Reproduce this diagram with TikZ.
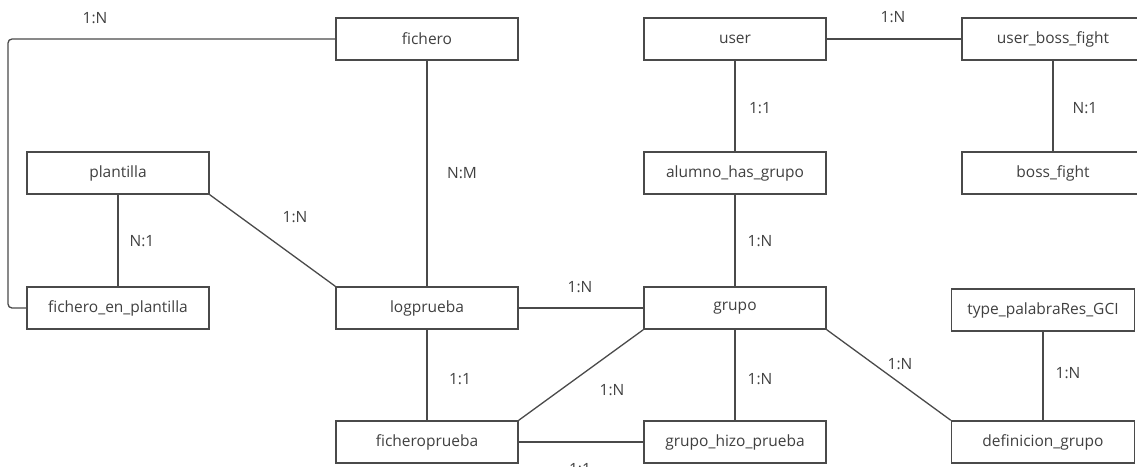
\documentclass[tikz,border=0pt]{standalone}
\usepackage{fontspec}
\setmainfont{Open Sans}
\begin{document}
\begin{tikzpicture}[x=1pt,y=-1pt,
  entity/.style={draw=linegray, line width=1.5pt, fill=white, minimum width=182pt,
    minimum height=42pt, inner sep=0pt, font=\fontsize{15.5}{18}\selectfont, text=textgray},
  rel/.style={draw=linegray, line width=1.3pt},
  card/.style={font=\fontsize{15.5}{18}\selectfont, text=textgray, inner sep=0pt}]
\definecolor{linegray}{HTML}{4A4A4A}
\definecolor{textgray}{HTML}{404040}
\useasboundingbox (0,0) rectangle (1137,466);
\fill[white] (0,0) rectangle (1137,466);

% entities
\node[entity] (fichero)   at (427,39)  {fichero};
\node[entity] (user)      at (735,39)  {user};
\node[entity] (ubf)       at (1053,39) {user\_boss\_fight};
\node[entity] (plantilla) at (118,173) {plantilla};
\node[entity] (ahg)       at (735,173) {alumno\_has\_grupo};
\node[entity] (boss)      at (1053,173) {boss\_fight};
\node[entity] (fep)       at (118,308) {fichero\_en\_plantilla};
\node[entity] (log)       at (427,308) {logprueba};
\node[entity] (grupo)     at (735,308) {grupo};
\node[entity, minimum width=183pt] (type) at (1043,310) {type\_palabraRes\_GCI};
\node[entity] (fprueba)   at (427,442) {ficheroprueba};
\node[entity] (ghp)       at (735,442) {grupo\_hizo\_prueba};
\node[entity, minimum width=183pt] (defg) at (1043,442) {definicion\_grupo};

% relationships
\coordinate (bendtop) at (8,39);
\coordinate (bendbot) at (8,308);
\draw[rel, rounded corners=4pt] (fichero.west) -- (bendtop) -- (bendbot) -- (fep.west);
\draw[rel] (fichero.south) -- (log.north);
\draw[rel] (user.east) -- (ubf.west);
\draw[rel] (user.south) -- (ahg.north);
\draw[rel] (ubf.south) -- (boss.north);
\draw[rel] (plantilla.south) -- (fep.north);
\draw[rel] (plantilla.south east) -- (log.north west);
\draw[rel] (ahg.south) -- (grupo.north);
\draw[rel] (log.east) -- (grupo.west);
\draw[rel] (log.south) -- (fprueba.north);
\draw[rel] (grupo.south west) -- (fprueba.north east);
\draw[rel] (grupo.south) -- (ghp.north);
\draw[rel] (grupo.south east) -- (defg.north west);
\draw[rel] (fprueba.east) -- (ghp.west);
\draw[rel] (type.south) -- (defg.north);

% cardinalities
\node[card] (c1)  at (95,18)   {1:N};
\node[card] (c2)  at (462,173) {N:M};
\node[card] (c3)  at (893,17)  {1:N};
\node[card] (c4)  at (760,108) {1:1};
\node[card] (c5)  at (1085,108) {N:1};
\node[card] (c6)  at (142,241) {N:1};
\node[card] (c7)  at (295,217) {1:N};
\node[card] (c8)  at (760,241) {1:N};
\node[card] (c9)  at (580,287) {1:N};
\node[card] (c10) at (460,379) {1:1};
\node[card] (c11) at (612,390) {1:N};
\node[card] (c12) at (760,379) {1:N};
\node[card] (c13) at (900,364) {1:N};
\node[card] (c14) at (1068,373) {1:N};
\node[card] (c15) at (580,469) {1:1};
\end{tikzpicture}
\end{document}
